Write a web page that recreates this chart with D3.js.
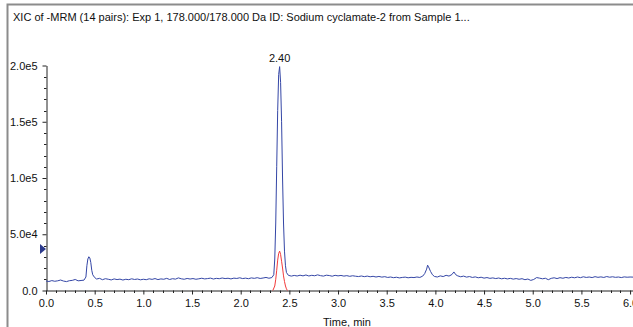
<!DOCTYPE html>
<html>
<head>
<meta charset="utf-8">
<script src="https://cdn.jsdelivr.net/npm/d3@7"></script>
<style>
  body { margin: 0; background: #fff; }
  text { font-family: "Liberation Sans", Arial, sans-serif; }
</style>
</head>
<body>
<div id="chart"></div>
<script>
// chart data (time in min, intensity in thousands of cps)
var titleText = "XIC of -MRM (14 pairs): Exp 1, 178.000/178.000 Da ID: Sodium cyclamate-2 from Sample 1...";
var xTicks = [0, 0.5, 1.0, 1.5, 2.0, 2.5, 3.0, 3.5, 4.0, 4.5, 5.0, 5.5, 6.0];
var xTickLabels = ["0.0","0.5","1.0","1.5","2.0","2.5","3.0","3.5","4.0","4.5","5.0","5.5","6.0"];
var yTicks = [0, 50000, 100000, 150000, 200000];
var yTickLabels = ["0.0","5.0e4","1.0e5","1.5e5","2.0e5"];
var peakLabel = {t: 2.40, v: 199, text: "2.40"};

var blueT = [0.00,0.03,0.06,0.09,0.12,0.15,0.18,0.21,0.24,0.27,0.30,0.33,0.36,0.39,0.41,0.42,0.43,0.44,0.45,0.46,0.47,0.48,0.50,
  0.52,0.55,0.58,0.61,0.64,0.67,0.70,0.73,0.76,0.79,0.82,0.85,0.88,0.91,0.94,0.97,1.00,1.03,1.06,1.09,1.12,1.15,1.18,1.21,1.24,
  1.27,1.30,1.33,1.36,1.39,1.42,1.45,1.48,1.51,1.54,1.57,1.60,1.63,1.66,1.69,1.72,1.75,1.78,1.81,1.84,1.87,1.90,1.93,1.96,1.99,
  2.02,2.05,2.08,2.11,2.14,2.17,2.20,2.23,2.26,2.29,2.32,2.34,2.35,2.36,2.37,2.38,2.39,2.40,2.41,2.42,2.43,2.44,2.45,2.46,2.47,
  2.49,2.52,2.55,2.58,2.61,2.64,2.67,2.70,2.73,2.76,2.79,2.82,2.85,2.88,2.91,2.94,2.97,3.00,3.03,3.06,3.09,3.12,3.15,3.18,3.21,
  3.24,3.27,3.30,3.33,3.36,3.39,3.42,3.45,3.48,3.51,3.54,3.57,3.60,3.63,3.66,3.69,3.72,3.75,3.78,3.81,3.84,3.87,3.89,3.91,3.92,
  3.93,3.95,3.97,3.99,4.02,4.05,4.08,4.11,4.14,4.17,4.19,4.21,4.23,4.26,4.29,4.32,4.35,4.38,4.41,4.44,4.47,4.50,4.53,4.56,4.59,
  4.62,4.65,4.68,4.71,4.74,4.77,4.80,4.83,4.86,4.89,4.92,4.95,4.98,5.01,5.04,5.07,5.10,5.13,5.16,5.19,5.22,5.25,5.28,5.31,5.34,
  5.37,5.40,5.43,5.46,5.49,5.52,5.55,5.58,5.61,5.64,5.67,5.70,5.73,5.76,5.79,5.82,5.85,5.88,5.91,5.94,5.97,6.00,6.03];
var blueV = [8.5,8.0,8.8,8.2,8.6,9.3,8.4,7.9,8.7,9.0,9.8,8.6,8.9,9.2,12,22,28,30,29,25,18,14,11.5,
  10.2,10.8,9.6,10.5,10.0,9.4,10.3,9.7,10.1,9.3,10.0,9.6,10.4,9.8,10.2,9.5,10.0,9.6,10.4,9.9,10.6,9.7,10.3,10.0,10.8,
  9.8,10.5,10.1,11.2,10.4,10.0,10.7,10.2,10.6,10.0,10.4,10.9,10.3,10.6,11.0,10.2,10.8,10.5,11.1,10.6,10.9,10.3,11.0,10.7,11.3,
  10.6,11.0,10.5,11.2,10.8,11.4,10.7,11.1,11.6,10.9,11.5,14,28,60,110,160,192,199,185,150,100,60,35,22,16,
  13.5,12.8,13.4,12.9,13.6,13.0,13.8,12.9,13.5,13.1,13.9,13.2,12.8,13.6,13.3,12.7,13.5,13.0,13.4,12.8,13.2,12.6,13.1,12.7,12.4,
  12.9,12.3,12.8,12.2,12.6,12.0,12.5,11.9,12.3,11.6,12.0,11.4,11.8,11.2,11.6,11.9,11.3,11.7,11.5,12.0,11.6,12.8,15,19,22.5,
  21,17,14,12.5,12.0,13.0,12.4,13.5,12.8,14.2,16.5,14.0,13.0,12.2,12.8,11.9,12.4,11.6,12.1,11.3,11.8,11.0,11.5,10.8,11.2,
  10.6,11.1,10.4,10.9,10.3,10.8,10.1,10.6,10.0,10.5,9.6,10.2,9.0,9.8,11.5,11.0,10.4,10.9,9.6,10.8,11.3,10.6,11.4,10.9,11.6,
  11.1,11.8,11.3,12.0,11.4,12.2,11.6,12.0,11.5,12.3,11.7,12.1,11.6,12.4,11.8,12.2,11.7,12.0,11.5,12.1,11.8,12.0,11.9];

var redT = [2.33,2.35,2.36,2.37,2.38,2.39,2.40,2.41,2.42,2.43,2.44,2.45,2.46,2.47,2.48];
var redV = [0,4,10,18,27,33,35,32,26,20,13,8,4,1.5,0];

var markerValue = 37000;

var width = 633, height = 327;

var svg = d3.select("#chart")
  .append("svg")
    .attr("width", width)
    .attr("height", height);

// frame
svg.append("path")
  .attr("d", "M7.5," + height + "V4.5H" + width)
  .attr("fill", "none")
  .attr("stroke", "#8c8c8c")
  .attr("stroke-width", 2);

svg.append("text")
  .attr("x", 13)
  .attr("y", 21)
  .attr("font-size", 11)
  .attr("fill", "#111")
  .text(titleText);

var x = d3.scaleLinear()
  .domain([0, 6.03])
  .range([46, 633]);

var y = d3.scaleLinear()
  .domain([0, 200000])
  .range([290.5, 65.5]);

// minor ticks
var xMinor = d3.range(0, 61).map(function(i){ return i / 10; })
  .filter(function(d, i){ return i % 5 != 0; });
svg.append("g")
  .attr("transform", "translate(0,290.5)")
  .selectAll("line")
  .data(xMinor)
  .enter().append("line")
    .attr("x1", function(d){ return Math.round(x(d)) + 0.5; })
    .attr("x2", function(d){ return Math.round(x(d)) + 0.5; })
    .attr("y1", 0)
    .attr("y2", 2.5)
    .attr("stroke", "#222");

var yMinor = d3.range(0, 21).map(function(i){ return i * 10000; })
  .filter(function(d, i){ return i % 5 != 0; });
svg.append("g")
  .attr("transform", "translate(46.5,0)")
  .selectAll("line")
  .data(yMinor)
  .enter().append("line")
    .attr("y1", function(d){ return Math.round(y(d)) + 0.5; })
    .attr("y2", function(d){ return Math.round(y(d)) + 0.5; })
    .attr("x1", 0)
    .attr("x2", -2.5)
    .attr("stroke", "#222");

// axes
var xAxis = svg.append("g")
  .attr("transform", "translate(0,290.5)")
  .call(d3.axisBottom(x)
    .tickValues(xTicks)
    .tickFormat(function(d, i){ return xTickLabels[i]; })
    .tickSizeInner(4)
    .tickSizeOuter(0));
xAxis.selectAll("text").attr("font-size", 11).attr("fill", "#111").attr("dy", "0.9em")
  .attr("font-family", "Liberation Sans, Arial, sans-serif");
xAxis.selectAll("line, path").attr("stroke", "#222");

var yAxis = svg.append("g")
  .attr("transform", "translate(46.5,0)")
  .call(d3.axisLeft(y)
    .tickValues(yTicks)
    .tickFormat(function(d, i){ return yTickLabels[i]; })
    .tickSizeInner(4)
    .tickSizeOuter(0)
    .tickPadding(5));
yAxis.selectAll("text").attr("font-size", 11).attr("fill", "#111")
  .attr("font-family", "Liberation Sans, Arial, sans-serif");
yAxis.selectAll("line, path").attr("stroke", "#222");

svg.append("text")
  .attr("x", 347)
  .attr("y", 326)
  .attr("text-anchor", "middle")
  .attr("font-size", 11)
  .attr("fill", "#111")
  .text("Time, min");

// traces
var line = d3.line()
  .x(function(d){ return x(d[0]); })
  .y(function(d){ return y(d[1] * 1000); });

var blueData = blueT.map(function(t, i){ return [t, blueV[i]]; });
var redData = redT.map(function(t, i){ return [t, redV[i]]; });

svg.append("path")
  .datum(blueData)
  .attr("d", line)
  .attr("fill", "none")
  .attr("stroke", "#3446a6")
  .attr("stroke-width", 1);

svg.append("path")
  .datum(redData)
  .attr("d", line)
  .attr("fill", "none")
  .attr("stroke", "#f23a3a")
  .attr("stroke-width", 1);

// peak label
svg.append("text")
  .attr("x", x(peakLabel.t))
  .attr("y", y(peakLabel.v * 1000) - 5)
  .attr("text-anchor", "middle")
  .attr("font-size", 11)
  .attr("fill", "#111")
  .text(peakLabel.text);

// marker on the y axis
var my = y(markerValue);
svg.append("path")
  .attr("d", "M40," + (my - 5) + "L46," + my + "L40," + (my + 5) + "Z")
  .attr("fill", "#2b3a8c");
</script>
</body>
</html>
